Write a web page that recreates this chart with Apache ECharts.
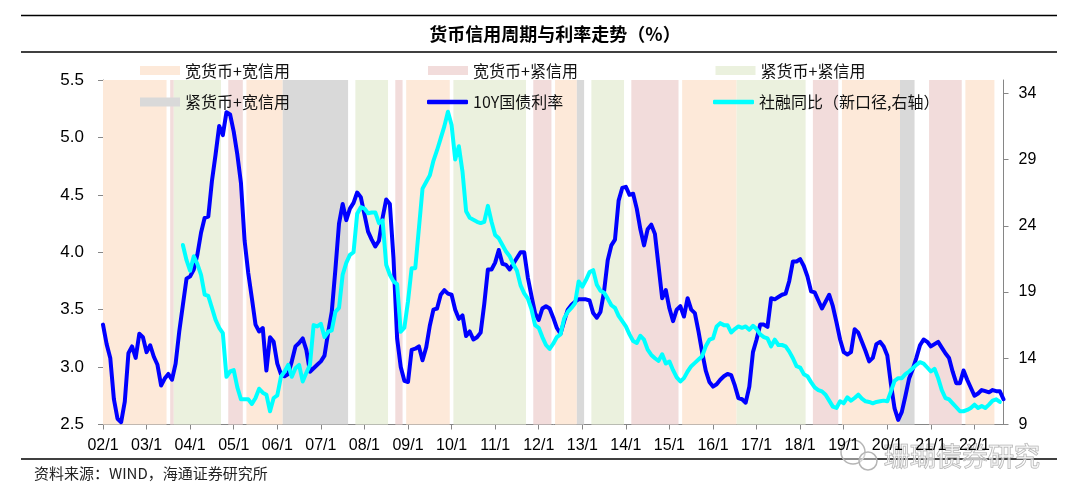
<!DOCTYPE html>
<html>
<head>
<meta charset="utf-8">
<script src="https://cdn.jsdelivr.net/npm/echarts@6/dist/echarts.min.js"></script>
<style>
  html, body { margin: 0; padding: 0; background: #fff; }
  #main { width: 1080px; height: 503px; }
</style>
</head>
<body>
<div id="main"></div>
<script>
// month axis: 2002-01 .. 2022-09
var firstYear = 2002, lastYear = 2022, lastMonth = 9;
var months = [];
for (var y = firstYear; y <= lastYear; y++) {
  for (var m = 1; m <= 12; m++) {
    if (y === lastYear && m > lastMonth) break;
    months.push(('0' + (y % 100)).slice(-2) + '/' + m);
  }
}

// 10Y government bond yield, monthly from 2002-01
var rate10y = [
  3.37, 3.20, 3.08, 2.72, 2.55, 2.52, 2.70, 3.12, 3.18, 3.08, 3.29, 3.26,
  3.13, 3.19, 3.09, 3.02, 2.84, 2.90, 2.94, 2.89, 3.03, 3.31, 3.54, 3.77,
  3.79, 3.85, 3.98, 4.17, 4.30, 4.31, 4.62, 4.85, 5.10, 5.02, 5.22, 5.20,
  5.05, 4.85, 4.60, 4.10, 3.82, 3.60, 3.37, 3.31, 3.34, 2.97, 3.26, 3.22,
  3.03, 2.94, 2.92, 2.94, 3.05, 3.18, 3.21, 3.25, 3.15, 2.96, 2.99, 3.02,
  3.05, 3.10, 3.30, 3.48, 3.85, 4.25, 4.42, 4.28, 4.38, 4.43, 4.52, 4.48,
  4.33, 4.18, 4.11, 4.05, 4.10, 4.30, 4.46, 4.42, 3.95, 3.25, 3.00, 2.88,
  2.87, 3.15, 3.16, 3.18, 3.06, 3.17, 3.36, 3.50, 3.51, 3.63, 3.67, 3.64,
  3.63, 3.50, 3.42, 3.45, 3.27, 3.31, 3.24, 3.26, 3.30, 3.55, 3.85, 3.85,
  3.91, 4.02, 3.90, 3.89, 3.85, 3.90, 3.95, 4.00, 4.00, 3.78, 3.62, 3.47,
  3.41, 3.51, 3.53, 3.51, 3.43, 3.34, 3.29, 3.40, 3.50, 3.54, 3.57, 3.59,
  3.59, 3.59, 3.58, 3.47, 3.43, 3.48, 3.66, 3.93, 4.06, 4.11, 4.45, 4.56,
  4.57, 4.50, 4.51, 4.38, 4.20, 4.06, 4.20, 4.24, 4.16, 3.88, 3.60, 3.67,
  3.51, 3.40, 3.50, 3.53, 3.44, 3.60, 3.50, 3.47, 3.31, 3.13, 2.97, 2.87,
  2.83, 2.85, 2.89, 2.92, 2.94, 2.93, 2.84, 2.73, 2.72, 2.69, 2.83, 3.13,
  3.24, 3.37, 3.37, 3.35, 3.60, 3.59, 3.61, 3.63, 3.64, 3.75, 3.92, 3.92,
  3.94, 3.88, 3.79, 3.66, 3.65, 3.58, 3.51, 3.57, 3.63, 3.53, 3.39, 3.24,
  3.13, 3.11, 3.13, 3.33, 3.30, 3.22, 3.14, 3.05, 3.08, 3.20, 3.22, 3.18,
  3.10, 2.85, 2.64, 2.54, 2.61, 2.75, 2.90, 2.98, 3.08, 3.19, 3.24, 3.22,
  3.18, 3.20, 3.22, 3.17, 3.12, 3.08, 2.96, 2.86, 2.86, 2.97, 2.89, 2.82,
  2.75, 2.77, 2.80, 2.79, 2.78, 2.80, 2.79, 2.79, 2.72
];

// 社融存量同比 (new definition), monthly from 2003-11
var tsfStart = '2003-11';
var tsfGrowth = [
  22.55, 21.4,
  20.6, 21.7, 21.1, 20.3, 18.8, 18.7, 17.8, 16.9, 16.3, 15.9, 12.6, 13.0,
  13.1, 11.8, 10.9, 10.9, 10.9, 10.55, 11.0, 11.7, 11.4, 11.25, 10.0, 11.0,
  11.2, 12.6, 13.0, 13.5, 12.6, 13.25, 13.5, 12.25, 12.9, 13.5, 16.5, 16.4,
  16.6, 15.6, 16.0, 16.1, 17.5, 17.8, 20.3, 21.2, 21.8, 22.0, 24.9, 25.4,
  25.3, 24.95, 25.0, 25.0, 24.2, 24.4, 21.05, 20.3, 19.8, 19.6, 16.0, 16.3,
  18.3, 20.8, 20.8, 23.8, 26.8, 27.3, 27.8, 28.9, 29.7, 30.6, 31.5, 32.6,
  31.6, 29.0, 30.0, 28.1, 25.1, 24.6, 24.45, 24.3, 24.2, 24.3, 25.5, 24.3,
  23.3, 23.05, 22.55, 22.05, 21.7, 21.1, 20.6, 19.5, 18.9, 18.5, 17.7, 16.5,
  16.3, 15.6, 15.0, 14.7, 15.1, 15.6, 15.8, 17.0, 17.5, 17.8, 18.15, 19.8,
  19.4, 19.9, 20.5, 20.65, 19.55, 19.1, 18.95, 18.5, 18.0, 17.8, 17.2, 16.8,
  16.4, 15.8, 15.3, 15.15, 15.7, 15.4, 14.65, 14.25, 14.0, 13.8, 14.3, 13.6,
  13.75, 13.1, 12.55, 12.25, 12.5, 13.0, 13.4, 13.65, 13.9, 14.15, 14.9, 15.4,
  15.5, 16.4, 16.65, 16.5, 16.5, 15.95, 16.2, 16.4, 16.3, 16.4, 16.15, 16.45,
  16.2, 15.8, 15.6, 15.5, 14.9, 15.4, 15.0, 15.0, 14.9, 14.5, 14.0, 13.4,
  13.3, 12.8, 12.65, 12.2, 11.8, 11.6, 11.5, 11.25, 10.8, 10.35, 10.25, 10.75,
  10.6, 11.05, 10.8, 11.0, 11.25, 10.95, 10.75, 10.7, 10.6, 10.7, 10.75, 10.8,
  10.75, 11.5, 12.3, 12.5, 12.5, 12.8, 13.0, 13.25, 13.5, 13.7, 13.6, 13.3,
  13.0, 13.2, 12.5, 11.6, 11.0, 10.9, 10.6, 10.3, 10.0, 10.0, 10.1, 10.25,
  10.5, 10.25, 10.4, 10.25, 10.5, 10.8, 10.9, 10.7
];

// monetary / credit regimes, [first month, last month]
var wideMoneyWideCredit = [
  ['2002-01', '2003-06'], ['2005-05', '2006-02'], ['2009-01', '2009-12'], ['2012-06', '2012-11'],
  ['2015-05', '2016-07'], ['2019-01', '2020-04'], ['2021-11', '2022-06']
];
var wideMoneyTightCredit = [
  ['2003-08', '2003-08'], ['2004-12', '2005-03'], ['2008-10', '2008-11'], ['2011-12', '2012-04'],
  ['2014-03', '2015-03'], ['2018-05', '2018-11'], ['2021-01', '2021-09']
];
var tightMoneyTightCredit = [
  ['2003-09', '2004-09'], ['2007-11', '2008-07'], ['2010-02', '2011-09'], ['2013-04', '2013-12'],
  ['2016-08', '2018-02']
];
var tightMoneyWideCredit = [
  ['2006-03', '2007-08'], ['2012-12', '2013-01'], ['2020-05', '2020-08']
];

var leftTicks = { min: 2.5, max: 5.5, step: 0.5 };
var rightTicks = [9, 14, 19, 24, 29, 34];

var cjk = '"Noto Sans CJK SC", sans-serif';
var latin = '"Liberation Sans", Arial, sans-serif';

function monthIndex(s) {
  var p = s.split('-');
  return (+p[0] - firstYear) * 12 + (+p[1] - 1);
}

var tsfData = [];
for (var i = 0; i < months.length; i++) {
  var k = i - monthIndex(tsfStart);
  tsfData.push(k >= 0 && k < tsfGrowth.length ? tsfGrowth[k] : '-');
}

function bandSeries(name, color, periods) {
  var last = months.length - 1;
  return {
    name: name,
    type: 'line',
    xAxisIndex: 1,
    yAxisIndex: 0,
    data: [],
    color: color,
    z: 1,
    silent: true,
    markArea: {
      silent: true,
      itemStyle: { color: color },
      label: { show: false },
      data: periods.map(function (p) {
        return [
          { xAxis: Math.max(0, monthIndex(p[0]) - 0.5) },
          { xAxis: Math.min(last, monthIndex(p[1]) + 0.5) }
        ];
      })
    }
  };
}

function legendItem(name, icon, left, top, w, h) {
  return {
    data: [{ name: name, icon: icon }],
    left: left, top: top, padding: 0,
    itemWidth: w, itemHeight: h,
    selectedMode: false,
    textStyle: { fontFamily: cjk, fontSize: 16, color: '#111' }
  };
}

var yearTick = function (idx) { return idx % 12 === 0; };

var chart = echarts.init(document.getElementById('main'), null, { renderer: 'canvas' });
chart.setOption({
  animation: false,
  backgroundColor: '#fff',
  grid: { left: 103, right: 76.5, top: 80, bottom: 78.5, outerBoundsMode: 'none' },
  legend: [
    legendItem('宽货币+宽信用', 'rect', 140, 62.5, 40, 9),
    legendItem('宽货币+紧信用', 'rect', 428, 62.5, 40, 9),
    legendItem('紧货币+紧信用', 'rect', 715.5, 62.5, 40, 9),
    legendItem('紧货币+宽信用', 'rect', 140, 94, 40, 9),
    legendItem('10Y国债利率', 'roundRect', 427, 94, 41, 4.5),
    legendItem('社融同比（新口径,右轴）', 'roundRect', 713, 94, 41, 4.5)
  ],
  xAxis: [{
    type: 'category',
    data: months,
    boundaryGap: false,
    axisLine: { lineStyle: { color: '#868686', width: 1 } },
    axisTick: { interval: yearTick, length: 5, lineStyle: { color: '#868686' } },
    axisLabel: { interval: yearTick, fontFamily: latin, fontSize: 16, color: '#000', margin: 13 },
    splitLine: { show: false }
  }, {
    type: 'value',
    show: false,
    min: 0,
    max: months.length - 1
  }],
  yAxis: [{
    type: 'value',
    position: 'left',
    min: leftTicks.min, max: leftTicks.max, interval: leftTicks.step,
    axisLine: { show: true, lineStyle: { color: '#868686', width: 1 } },
    axisTick: { show: true, length: 5, lineStyle: { color: '#868686' } },
    axisLabel: { fontFamily: latin, fontSize: 17, color: '#000', margin: 19,
      formatter: function (v) { return v.toFixed(1); } },
    splitLine: { show: false }
  }, {
    type: 'value',
    position: 'right',
    min: 9, max: 35,
    axisLine: { show: true, lineStyle: { color: '#868686', width: 1 } },
    axisTick: { show: true, length: 5, customValues: rightTicks, lineStyle: { color: '#868686' } },
    axisLabel: { fontFamily: latin, fontSize: 16, color: '#000', margin: 15, customValues: rightTicks },
    splitLine: { show: false }
  }],
  series: [
    bandSeries('宽货币+宽信用', '#FDE9D9', wideMoneyWideCredit),
    bandSeries('宽货币+紧信用', '#F2DCDB', wideMoneyTightCredit),
    bandSeries('紧货币+紧信用', '#EBF1DE', tightMoneyTightCredit),
    bandSeries('紧货币+宽信用', '#D9D9D9', tightMoneyWideCredit),
    {
      name: '10Y国债利率', type: 'line', data: rate10y, yAxisIndex: 0,
      symbol: 'none', color: '#0000FF', z: 3,
      lineStyle: { width: 4, color: '#0000FF', join: 'round', cap: 'round' }
    },
    {
      name: '社融同比（新口径,右轴）', type: 'line', data: tsfData, yAxisIndex: 1,
      symbol: 'none', color: '#00FFFF', z: 4,
      lineStyle: { width: 4, color: '#00FFFF', join: 'round', cap: 'round' }
    }
  ],
  graphic: [
    { type: 'line', shape: { x1: 21, y1: 15.5, x2: 1057, y2: 15.5 }, style: { stroke: '#000', lineWidth: 1.5 } },
    { type: 'line', shape: { x1: 21, y1: 52, x2: 1057, y2: 52 }, style: { stroke: '#000', lineWidth: 1.5 } },
    { type: 'line', shape: { x1: 21, y1: 459, x2: 1057, y2: 459 }, style: { stroke: '#000', lineWidth: 1.5 } },
    { type: 'text', x: 555, y: 34, style: { text: '货币信用周期与利率走势（%）', fontFamily: cjk, fontSize: 18,
      fontWeight: 'bold', fill: '#000', textAlign: 'center', textVerticalAlign: 'middle' } },
    { type: 'text', x: 34, y: 473, style: { text: '资料来源：WIND，海通证券研究所', fontFamily: cjk, fontSize: 15,
      fill: '#222', textVerticalAlign: 'middle' } },
    { type: 'circle', shape: { cx: 853, cy: 452, r: 12 }, style: { fill: 'rgba(255,255,255,0.4)', stroke: '#b5b5b5', lineWidth: 1.5 } },
    { type: 'circle', shape: { cx: 868, cy: 461, r: 9 }, style: { fill: 'rgba(255,255,255,0.4)', stroke: '#b5b5b5', lineWidth: 1.5 } },
    { type: 'text', x: 884, y: 456, style: { text: '珊瑚债券研究', fontFamily: cjk, fontSize: 26,
      fill: 'rgba(255,255,255,0.55)', stroke: '#aaaaaa', lineWidth: 1, textVerticalAlign: 'middle' } }
  ]
});
</script>
</body>
</html>
